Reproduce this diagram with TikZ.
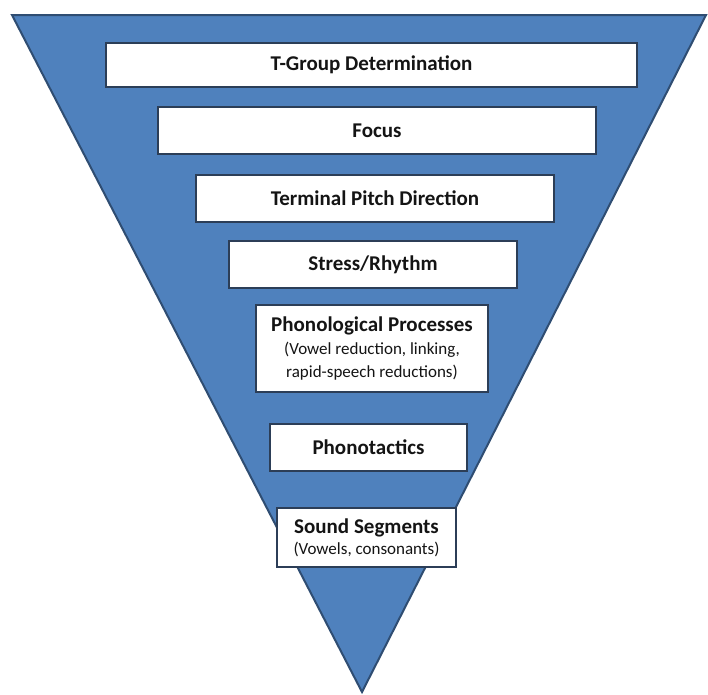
\documentclass[tikz,border=0pt]{standalone}
\usepackage{fontspec}
\setmainfont{Carlito}
\definecolor{triblue}{HTML}{4F81BD}
\definecolor{triedge}{HTML}{2F4D72}
\definecolor{boxedge}{HTML}{2C3E57}
\definecolor{txt}{HTML}{141414}
\begin{document}
\begin{tikzpicture}[x=1pt,y=-1pt,
  layerbox/.style={draw=boxedge, line width=1.4pt, fill=white, text=txt,
    inner sep=0pt, align=center, font=\fontsize{21}{24}\selectfont\bfseries}]
\useasboundingbox (0,0) rectangle (708,694);
\fill[white] (0,0) rectangle (708,694);
\coordinate (tl) at (12,15);
\coordinate (tr) at (706,15);
\coordinate (ap) at (362,692);
\filldraw[fill=triblue, draw=triedge, line width=2pt, line join=miter] (tl) -- (tr) -- (ap) -- cycle;
\node[layerbox, minimum width=531pt, minimum height=44pt] (b1) at (371.5,65) {T-Group Determination};
\node[layerbox, minimum width=438pt, minimum height=47pt] (b2) at (377,130.5) {Focus};
\node[layerbox, minimum width=358pt, minimum height=47pt] (b3) at (375,198.5) {Terminal Pitch Direction};
\node[layerbox, minimum width=288pt, minimum height=47pt] (b4) at (373,264.5) {Stress/Rhythm};
\node[layerbox, minimum width=232pt, minimum height=87pt] (b5) at (372,348.5) {Phonological Processes\\[-1pt]{\fontsize{17}{23}\selectfont\mdseries (Vowel reduction, linking,}\\[-1pt]{\fontsize{17}{23}\selectfont\mdseries rapid-speech reductions)}};
\node[layerbox, minimum width=197pt, minimum height=47pt] (b6) at (368.5,447.5) {Phonotactics};
\node[layerbox, minimum width=179pt, minimum height=59pt] (b7) at (366.5,537.5) {Sound Segments\\[-3pt]{\fontsize{17}{22}\selectfont\mdseries (Vowels, consonants)}};
\end{tikzpicture}
\end{document}
